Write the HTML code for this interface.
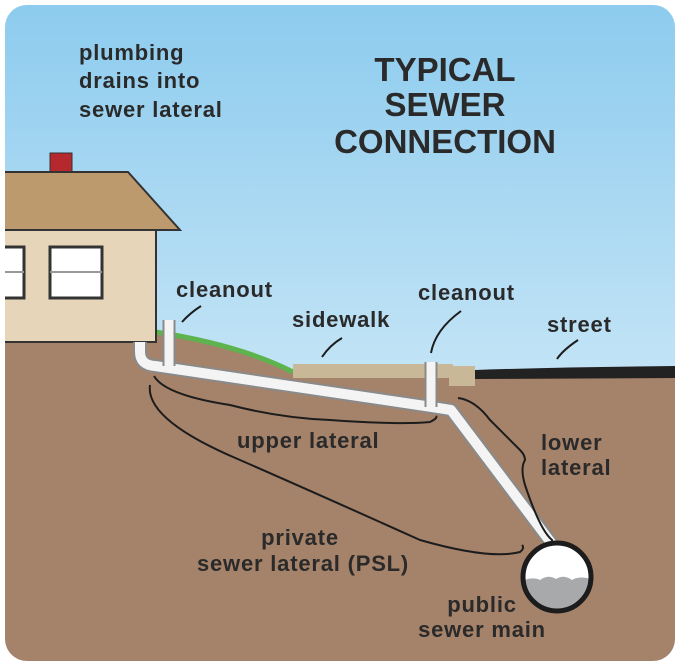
<!DOCTYPE html>
<html><head><style>
body{margin:0;width:682px;height:668px;background:#fff;overflow:hidden}
svg{display:block}
text{font-family:"Liberation Sans",sans-serif;font-weight:bold;fill:#2a2a2a}
</style></head><body>
<svg width="682" height="668" viewBox="0 0 682 668">
<defs>
<linearGradient id="sky" x1="0" y1="0" x2="0" y2="1">
<stop offset="0" stop-color="#8ccbee"/><stop offset="1" stop-color="#eef7fc"/>
</linearGradient>
<clipPath id="c"><rect x="5" y="5" width="670" height="656" rx="22"/></clipPath>
<clipPath id="circ"><circle cx="557" cy="577" r="34"/></clipPath>
</defs>
<g clip-path="url(#c)">
<rect x="0" y="0" width="682" height="668" fill="url(#sky)"/>
<path d="M0 342 L156 342 L156 332 Q240 345 293 372 L293 378 L682 378 L682 668 L0 668 Z" fill="#a5826a"/>
<path d="M156 332 Q240 345 293 372" fill="none" stroke="#5db44f" stroke-width="5"/>
<rect x="293" y="364" width="160" height="14" fill="#c8b898"/>
<rect x="449" y="366" width="26" height="20" fill="#c8b898"/>
<path d="M475 370 Q560 367 682 366 L682 378 L475 379 Z" fill="#222"/>
<rect x="0" y="230" width="156" height="112" fill="#e6d5b8" stroke="#333" stroke-width="2"/>
<rect x="50" y="153" width="22" height="20" fill="#b5282e" stroke="#333" stroke-width="1"/>
<path d="M0 172 L128 172 L180 230 L0 230 Z" fill="#bd9a6e" stroke="#333" stroke-width="2"/>
<rect x="-5" y="247" width="29" height="51" fill="#fff" stroke="#333" stroke-width="3"/>
<line x1="0" y1="272" x2="24" y2="272" stroke="#999" stroke-width="2"/>
<rect x="50" y="247" width="52" height="51" fill="#fff" stroke="#333" stroke-width="3"/>
<line x1="50" y1="272" x2="102" y2="272" stroke="#999" stroke-width="2"/>
<g fill="none" stroke-linecap="butt" stroke-linejoin="round">
<path d="M140 342 L140 352 Q140 365 155 366 L432 407 L451 410 L555 548" stroke="#8a8a8a" stroke-width="14"/>
<path d="M140 342 L140 352 Q140 365 155 366 L432 407 L451 410 L555 548" stroke="#f4f4f4" stroke-width="10"/>
<line x1="169" y1="320" x2="169" y2="366" stroke="#8a8a8a" stroke-width="13"/>
<line x1="169" y1="320" x2="169" y2="366" stroke="#f4f4f4" stroke-width="9"/>
<line x1="431" y1="362" x2="431" y2="407" stroke="#8a8a8a" stroke-width="13"/>
<line x1="431" y1="362" x2="431" y2="407" stroke="#f4f4f4" stroke-width="9"/>
</g>
<circle cx="557" cy="577" r="34" fill="#fff"/>
<path clip-path="url(#circ)" d="M520 582 Q532 576 540 580 Q548 574 556 579 Q564 574 572 580 Q580 575 594 580 L594 620 L520 620 Z" fill="#a8a9aa"/>
<circle cx="557" cy="577" r="34" fill="none" stroke="#1c1c1c" stroke-width="5"/>
<g fill="none" stroke="#1c1c1c" stroke-width="2">
<path d="M154 376 Q165 395 230 405 Q280 418 330 420 Q400 425 430 422 Q438 418 436 416"/>
<path d="M150 385 Q145 420 240 460 Q320 495 420 540 Q490 560 520 552 Q525 548 522 545"/>
<path d="M458 398 Q475 400 490 420 Q515 445 520 450 Q525 455 525 460 Q520 468 525 485 Q540 530 552 540 L552 545"/>
<path d="M182 322 Q190 313 201 306"/>
<path d="M322 357 Q330 345 342 338"/>
<path d="M431 353 Q435 330 461 311"/>
<path d="M557 359 Q563 350 578 340"/>
</g>
</g>
<g font-size="22" letter-spacing="0.8">
<text x="79" y="60">plumbing</text>
<text x="79" y="88">drains into</text>
<text x="79" y="117">sewer lateral</text>
<text x="176" y="297">cleanout</text>
<text x="292" y="327">sidewalk</text>
<text x="418" y="300">cleanout</text>
<text x="547" y="332">street</text>
<text x="237" y="448">upper lateral</text>
<text x="541" y="450">lower</text>
<text x="541" y="475">lateral</text>
<text x="300" y="545" text-anchor="middle">private</text>
<text x="303" y="571" text-anchor="middle">sewer lateral (PSL)</text>
<text x="482" y="612" text-anchor="middle">public</text>
<text x="482" y="637" text-anchor="middle">sewer main</text>
</g>
<g font-size="33" text-anchor="middle">
<text x="445" y="81">TYPICAL</text>
<text x="445" y="116">SEWER</text>
<text x="445" y="153">CONNECTION</text>
</g>
</svg>
</body></html>
